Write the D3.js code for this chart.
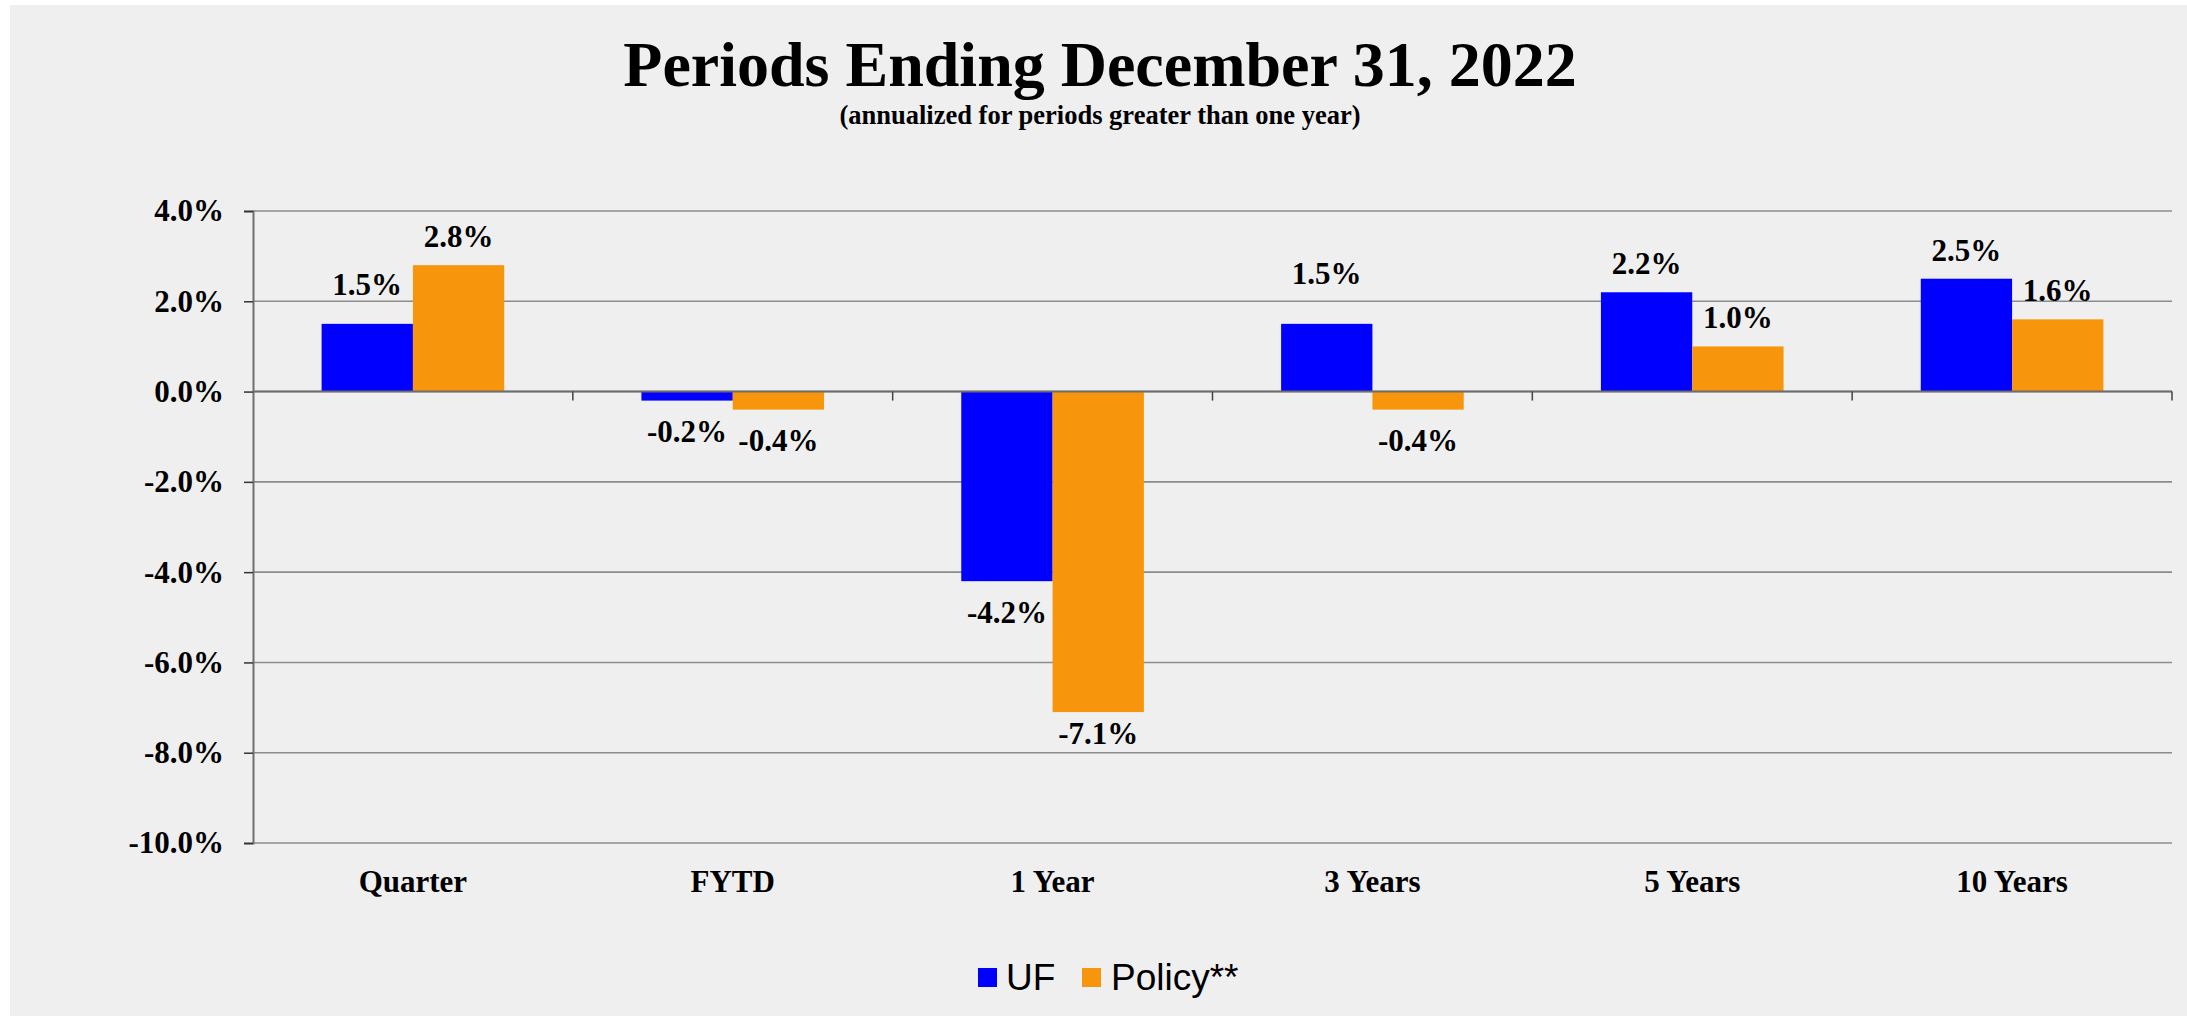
<!DOCTYPE html>
<html>
<head>
<meta charset="utf-8">
<script src="https://cdn.jsdelivr.net/npm/d3@7"></script>
<style>
  html, body { margin: 0; padding: 0; background: #ffffff; }
  svg { display: block; }
</style>
</head>
<body>
<svg id="chart" width="2187" height="1016"></svg>
<script>
// Returns by period
const categories = ["Quarter", "FYTD", "1 Year", "3 Years", "5 Years", "10 Years"];
const seriesNames = ["UF", "Policy**"];
const ufValues = [1.5, -0.2, -4.2, 1.5, 2.2, 2.5];
const policyValues = [2.8, -0.4, -7.1, -0.4, 1.0, 1.6];
const yTicks = [4, 2, 0, -2, -4, -6, -8, -10];

// Extra label spacing (px) beyond the standard gap, per series
const ufLabelShift = [11, 0, 0, 22, 0, 0];
const policyLabelShift = [0, 0, -10, 0, 0, 0];

const colors = { "UF": "#0000ff", "Policy**": "#f7960c" };

const W = 2187, H = 1016;
const margin = { left: 253, right: 15, top: 211, bottom: 173 };
const svg = d3.select("#chart");

// percent text with a plain hyphen for negatives
const pct = v => d3.format(".1f")(v).replace("\u2212", "-") + "%";

// panel background
svg.append("rect").attr("x", 10).attr("y", 5).attr("width", W - 10).attr("height", H - 5)
  .attr("fill", "#efefef");

// titles
svg.append("text").attr("x", 1100).attr("y", 86).attr("text-anchor", "middle")
  .attr("font-family", "'Liberation Serif', 'Times New Roman', serif")
  .attr("font-weight", "bold").attr("font-size", 64).attr("fill", "#000")
  .text("Periods Ending December 31, 2022");
svg.append("text").attr("x", 1100).attr("y", 124).attr("text-anchor", "middle")
  .attr("font-family", "'Liberation Serif', 'Times New Roman', serif")
  .attr("font-weight", "bold").attr("font-size", 26.5).attr("fill", "#000")
  .text("(annualized for periods greater than one year)");

const x0 = d3.scaleBand().domain(categories)
  .range([margin.left, W - margin.right]).paddingInner(0).paddingOuter(0);
const groupW = x0.bandwidth() * 0.571;
const x1 = d3.scaleBand().domain(seriesNames).range([0, groupW]).padding(0);
const y = d3.scaleLinear().domain([-10, 4]).range([H - margin.bottom, margin.top]);

const serif = "'Liberation Serif', 'Times New Roman', serif";

// gridlines
svg.append("g").selectAll("line").data(yTicks).join("line")
  .attr("x1", margin.left).attr("x2", W - margin.right)
  .attr("y1", d => y(d)).attr("y2", d => y(d))
  .attr("stroke", "#8c8c8c").attr("stroke-width", 1.6);

// y axis
const yAxis = d3.axisLeft(y).tickValues(yTicks).tickSize(9).tickPadding(20)
  .tickFormat(pct);
const gy = svg.append("g").attr("transform", `translate(${margin.left},0)`).call(yAxis);
gy.select(".domain").attr("stroke", "#6e6e6e").attr("stroke-width", 2);
gy.selectAll(".tick line").attr("stroke", "#333").attr("stroke-width", 1.5);
gy.selectAll(".tick text").attr("font-family", serif).attr("font-weight", "bold")
  .attr("font-size", 31).attr("fill", "#000");

// bars
const rows = categories.map((c, i) => ({
  cat: c,
  vals: [
    { name: "UF", v: ufValues[i], shift: ufLabelShift[i] },
    { name: "Policy**", v: policyValues[i], shift: policyLabelShift[i] }
  ]
}));

const groups = svg.append("g").selectAll("g").data(rows).join("g")
  .attr("transform", d => `translate(${x0(d.cat) + (x0.bandwidth() - groupW) / 2},0)`);

groups.selectAll("rect").data(d => d.vals).join("rect")
  .attr("x", d => x1(d.name))
  .attr("width", x1.bandwidth())
  .attr("y", d => y(Math.max(0, d.v)))
  .attr("height", d => Math.abs(y(d.v) - y(0)))
  .attr("fill", d => colors[d.name]);

// x axis (zero line) with ticks between categories
const xLine = svg.append("g");
xLine.append("line").attr("x1", margin.left).attr("x2", W - margin.right)
  .attr("y1", y(0)).attr("y2", y(0)).attr("stroke", "#6e6e6e").attr("stroke-width", 2);
const boundaries = categories.map(c => x0(c)).concat([x0(categories[categories.length - 1]) + x0.bandwidth()]);
xLine.selectAll("line.tk").data(boundaries.slice(1)).join("line").attr("class", "tk")
  .attr("x1", d => d).attr("x2", d => d)
  .attr("y1", y(0)).attr("y2", y(0) + 9)
  .attr("stroke", "#444").attr("stroke-width", 1.5);

// category labels
svg.append("g").selectAll("text").data(categories).join("text")
  .attr("x", d => x0(d) + x0.bandwidth() / 2).attr("y", 892)
  .attr("text-anchor", "middle").attr("font-family", serif)
  .attr("font-weight", "bold").attr("font-size", 31).attr("fill", "#000")
  .text(d => d);

// value labels
groups.selectAll("text").data(d => d.vals).join("text")
  .attr("x", d => x1(d.name) + x1.bandwidth() / 2)
  .attr("y", d => d.v >= 0 ? y(d.v) - 29 - d.shift : y(d.v) + 31 + d.shift)
  .attr("dy", "0.35em")
  .attr("text-anchor", "middle").attr("font-family", serif)
  .attr("font-weight", "bold").attr("font-size", 31).attr("fill", "#000")
  .text(d => pct(d.v));

// legend
const legend = svg.append("g");
const legendItems = [
  { name: "UF", sx: 978, tx: 1006 },
  { name: "Policy**", sx: 1082, tx: 1111 }
];
legend.selectAll("rect").data(legendItems).join("rect")
  .attr("x", d => d.sx).attr("y", 968).attr("width", 19).attr("height", 19)
  .attr("fill", d => colors[d.name]);
legend.selectAll("text").data(legendItems).join("text")
  .attr("x", d => d.tx).attr("y", 990)
  .attr("font-family", "'Liberation Sans', Arial, sans-serif")
  .attr("font-size", 37).attr("fill", "#000")
  .text(d => d.name);
</script>
</body>
</html>
